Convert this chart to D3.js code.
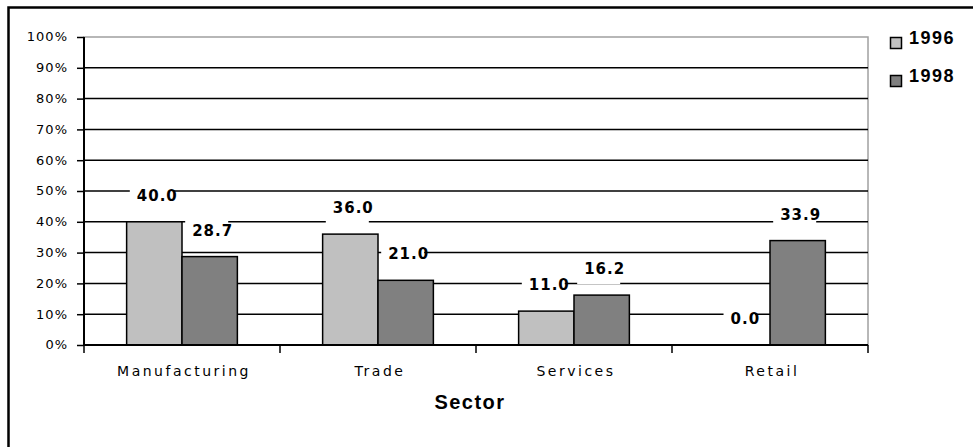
<!DOCTYPE html>
<html><head><meta charset="utf-8">
<script src="https://cdn.jsdelivr.net/npm/d3@7/dist/d3.min.js"></script>
<style>body{margin:0;background:#fff}svg{display:block}</style>
</head><body>
<script>
const categories = ["Manufacturing", "Trade", "Services", "Retail"];
const seriesNames = ["1996", "1998"];
const values1996 = [40.0, 36.0, 11.0, 0.0];
const values1998 = [28.7, 21.0, 16.2, 33.9];
const yTicks = [0, 10, 20, 30, 40, 50, 60, 70, 80, 90, 100];
const colors = ["#c0c0c0", "#808080"];
const xTitle = "Sector";

const W = 973, H = 447;
const plot = {left: 84, right: 868, top: 37, bottom: 345};

const svg = d3.select("body").append("svg").attr("width", W).attr("height", H);

// outer border
svg.append("rect").attr("x", 8.5).attr("y", 7.5).attr("width", 1100).attr("height", 1100)
  .attr("fill", "none").attr("stroke", "#000").attr("stroke-width", 2.5);

const x = d3.scaleBand().domain(categories).range([plot.left, plot.right]).paddingInner(0).paddingOuter(0);
const y = d3.scaleLinear().domain([0, 100]).range([plot.bottom, plot.top]);
const groupFrac = 0.565;
const xs = d3.scaleBand().domain(seriesNames)
  .range([0, x.bandwidth() * groupFrac]);
const groupOffset = (x.bandwidth() - x.bandwidth() * groupFrac) / 2;

// plot area border (gray)
svg.append("rect").attr("x", plot.left).attr("y", plot.top)
  .attr("width", plot.right - plot.left).attr("height", plot.bottom - plot.top)
  .attr("fill", "#fff").attr("stroke", "#a0a0a0").attr("stroke-width", 1.5);

// gridlines
svg.append("g").selectAll("line").data(yTicks.filter(t => t > 0 && t < 100)).join("line")
  .attr("x1", plot.left).attr("x2", plot.right)
  .attr("y1", d => y(d)).attr("y2", d => y(d))
  .attr("stroke", "#000").attr("stroke-width", 1.5);

// y axis
const yAxis = d3.axisLeft(y).tickValues(yTicks).tickFormat(d => d + "%").tickSize(7).tickPadding(9);
const gy = svg.append("g").attr("transform", `translate(${plot.left},0)`).call(yAxis);
gy.select(".domain").attr("stroke", "#000").attr("stroke-width", 2)
  .attr("d", `M0,${plot.top}V${plot.bottom}`);
gy.selectAll(".tick line").attr("stroke", "#000").attr("stroke-width", 1.5);
gy.selectAll(".tick text").attr("font-family", "DejaVu Sans").attr("font-size", 13)
  .attr("letter-spacing", "1px").attr("fill", "#000").attr("dy", "0.3em");

// bars
const data = categories.map((c, i) => ({cat: c, vals: [values1996[i], values1998[i]]}));
const barsG = svg.append("g");
data.forEach(d => {
  d.vals.forEach((v, j) => {
    const bx = x(d.cat) + groupOffset + xs(seriesNames[j]);
    if (v > 0) {
      barsG.append("rect").attr("x", bx).attr("y", y(v))
        .attr("width", xs.bandwidth()).attr("height", y(0) - y(v))
        .attr("fill", colors[j]).attr("stroke", "#000").attr("stroke-width", 1.5);
    }
  });
});

// x axis
const gx = svg.append("g").attr("transform", `translate(0,${plot.bottom})`);
gx.append("line").attr("x1", plot.left).attr("x2", plot.right).attr("y1", 0).attr("y2", 0)
  .attr("stroke", "#000").attr("stroke-width", 2);
const boundaries = categories.map(c => x(c)).concat([plot.right]);
gx.selectAll("line.tk").data(boundaries).join("line").attr("class", "tk")
  .attr("x1", d => d).attr("x2", d => d).attr("y1", 0).attr("y2", 8)
  .attr("stroke", "#000").attr("stroke-width", 1.5);
gx.selectAll("text").data(categories).join("text")
  .attr("x", d => x(d) + x.bandwidth() / 2 + 2).attr("y", 31)
  .attr("text-anchor", "middle").attr("font-family", "DejaVu Sans").attr("font-size", 14)
  .attr("letter-spacing", "2.5px").attr("fill", "#000").text(d => d);

// data labels
const labG = svg.append("g");
data.forEach(d => {
  d.vals.forEach((v, j) => {
    const cx = x(d.cat) + groupOffset + xs(seriesNames[j]) + xs.bandwidth() / 2 + 3;
    const by = y(v) - 21;
    const g = labG.append("g");
    const bg = g.append("rect").attr("fill", "#fff");
    const t = g.append("text").attr("x", cx).attr("y", by).attr("text-anchor", "middle")
      .attr("font-family", "DejaVu Sans").attr("font-weight", "bold").attr("font-size", 15)
      .attr("letter-spacing", "1px").attr("fill", "#000").text(v.toFixed(1));
    const bb = t.node().getBBox();
    bg.attr("x", bb.x - 7).attr("y", by - 19).attr("width", bb.width + 2).attr("height", 29);
  });
});

// axis title
svg.append("text").attr("x", 470).attr("y", 408.5).attr("text-anchor", "middle")
  .attr("font-family", "Liberation Sans").attr("font-weight", "bold").attr("font-size", 20)
  .attr("letter-spacing", "1.5px").attr("fill", "#000").text(xTitle);

// legend
const leg = svg.append("g");
seriesNames.forEach((s, i) => {
  const ly = 37 + i * 38;
  leg.append("rect").attr("x", 890.5).attr("y", ly + 0.5).attr("width", 11).attr("height", 11)
    .attr("fill", colors[i]).attr("stroke", "#000").attr("stroke-width", 1.5);
  leg.append("text").attr("x", 909).attr("y", ly + 7).attr("font-family", "Liberation Sans")
    .attr("font-weight", "bold").attr("font-size", 18).attr("letter-spacing", "1.5px")
    .attr("fill", "#000").text(s);
});
</script>
</body></html>
